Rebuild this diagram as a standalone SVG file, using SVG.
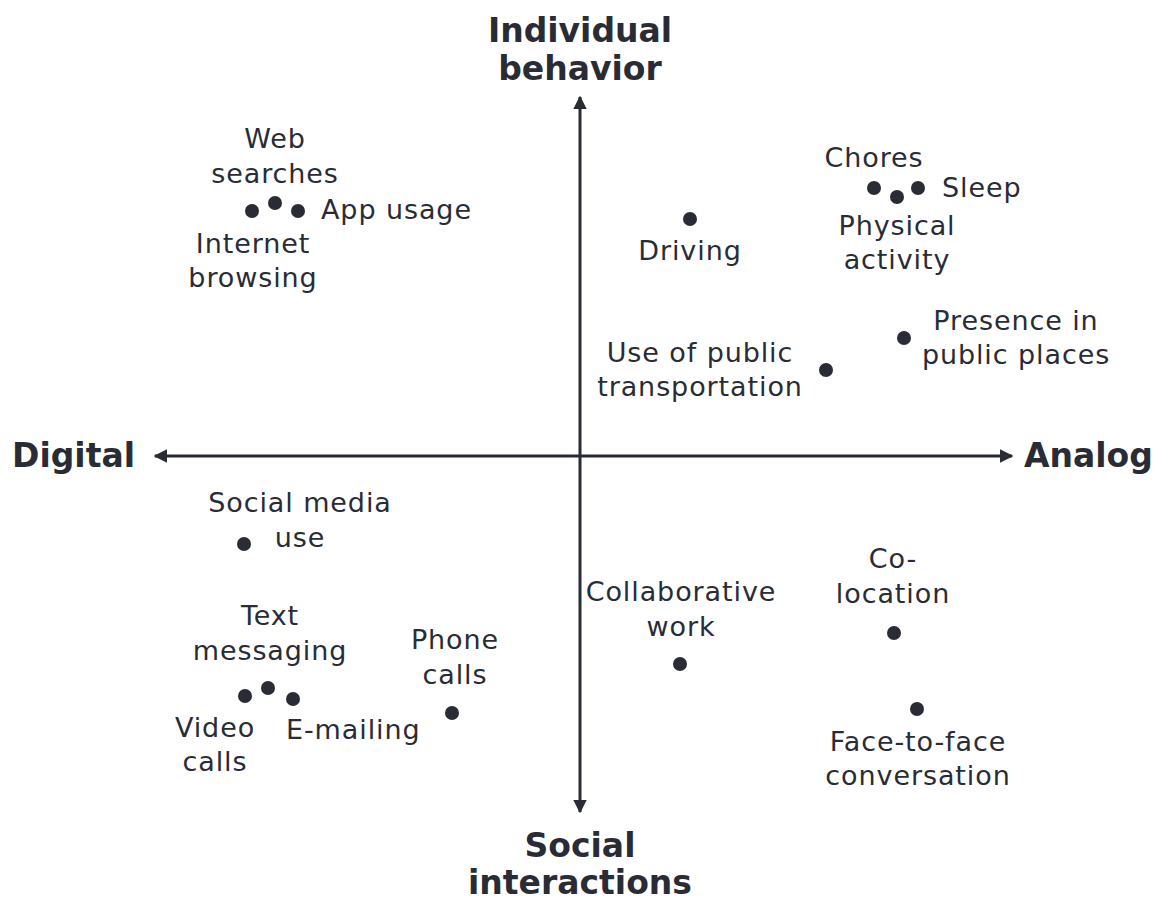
<svg xmlns="http://www.w3.org/2000/svg" width="1175" height="918" viewBox="0 0 1175 918">
<style>
text{font-family:"DejaVu Sans","Verdana",sans-serif;fill:#2a2c35}
.l{font-size:27px;text-anchor:middle;letter-spacing:0.9px}
.ls{font-size:27px;text-anchor:start;letter-spacing:0.9px}
.b{font-size:33px;font-weight:bold}
.d{fill:#2a2c35}
.ax{stroke:#2a2c35;stroke-width:3;fill:none}
</style>
<defs>
<marker id="ah" viewBox="0 0 10 10" refX="9" refY="5" markerWidth="4.5" markerHeight="4.5" orient="auto" markerUnits="strokeWidth">
<path d="M0,0 L10,5 L0,10 Z" fill="#2a2c35"/>
</marker>
</defs>
<rect width="1175" height="918" fill="#fff"/>
<g id="connectors">
<line class="ax" x1="580" y1="456" x2="580" y2="97" marker-end="url(#ah)"/>
<line class="ax" x1="580" y1="456" x2="580" y2="812" marker-end="url(#ah)"/>
<line class="ax" x1="580" y1="456" x2="1012" y2="456" marker-end="url(#ah)"/>
<line class="ax" x1="580" y1="456" x2="155" y2="456" marker-end="url(#ah)"/>
</g>
<g id="axis-top"><text class="b" x="580" y="42" text-anchor="middle">Individual</text><text class="b" x="580" y="80" text-anchor="middle">behavior</text></g>
<g id="axis-bottom"><text class="b" x="580" y="857" text-anchor="middle">Social</text><text class="b" x="580" y="894" text-anchor="middle">interactions</text></g>
<g id="axis-left"><text class="b" x="12" y="467">Digital</text></g>
<g id="axis-right"><text class="b" x="1024" y="467">Analog</text></g>
<g id="web-searches"><circle class="d" cx="275" cy="203" r="7"/><text class="l" x="275" y="148">Web</text><text class="l" x="275" y="183">searches</text></g>
<g id="internet-browsing"><circle class="d" cx="252" cy="211" r="7"/><text class="l" x="253" y="253">Internet</text><text class="l" x="253" y="287">browsing</text></g>
<g id="app-usage"><circle class="d" cx="298" cy="211" r="7"/><text class="ls" x="321" y="219">App usage</text></g>
<g id="chores"><circle class="d" cx="874" cy="188" r="7"/><text class="l" x="874" y="167">Chores</text></g>
<g id="physical-activity"><circle class="d" cx="897" cy="197" r="7"/><text class="l" x="897" y="235">Physical</text><text class="l" x="897" y="269">activity</text></g>
<g id="sleep"><circle class="d" cx="918" cy="188" r="7"/><text class="ls" x="942" y="197">Sleep</text></g>
<g id="driving"><circle class="d" cx="690" cy="219" r="7"/><text class="l" x="690" y="260">Driving</text></g>
<g id="presence"><circle class="d" cx="904" cy="338" r="7"/><text class="l" x="1016" y="330">Presence in</text><text class="l" x="1016" y="364">public places</text></g>
<g id="public-transport"><circle class="d" cx="826" cy="370" r="7"/><text class="l" x="700" y="362">Use of public</text><text class="l" x="700" y="396">transportation</text></g>
<g id="social-media"><circle class="d" cx="244" cy="544" r="7"/><text class="l" x="300" y="512">Social media</text><text class="l" x="300" y="547">use</text></g>
<g id="text-messaging"><circle class="d" cx="268" cy="688" r="7"/><text class="l" x="270" y="625">Text</text><text class="l" x="270" y="660">messaging</text></g>
<g id="video-calls"><circle class="d" cx="245" cy="696" r="7"/><text class="l" x="215" y="737">Video</text><text class="l" x="215" y="771">calls</text></g>
<g id="e-mailing"><circle class="d" cx="293" cy="699" r="7"/><text class="ls" x="286" y="739">E-mailing</text></g>
<g id="phone-calls"><circle class="d" cx="452" cy="713" r="7"/><text class="l" x="455" y="649">Phone</text><text class="l" x="455" y="684">calls</text></g>
<g id="collaborative-work"><circle class="d" cx="680" cy="664" r="7"/><text class="l" x="681" y="601">Collaborative</text><text class="l" x="681" y="636">work</text></g>
<g id="co-location"><circle class="d" cx="894" cy="633" r="7"/><text class="l" x="893" y="568">Co-</text><text class="l" x="893" y="603">location</text></g>
<g id="face-to-face"><circle class="d" cx="917" cy="709" r="7"/><text class="l" x="918" y="751">Face-to-face</text><text class="l" x="918" y="785">conversation</text></g>
</svg>
